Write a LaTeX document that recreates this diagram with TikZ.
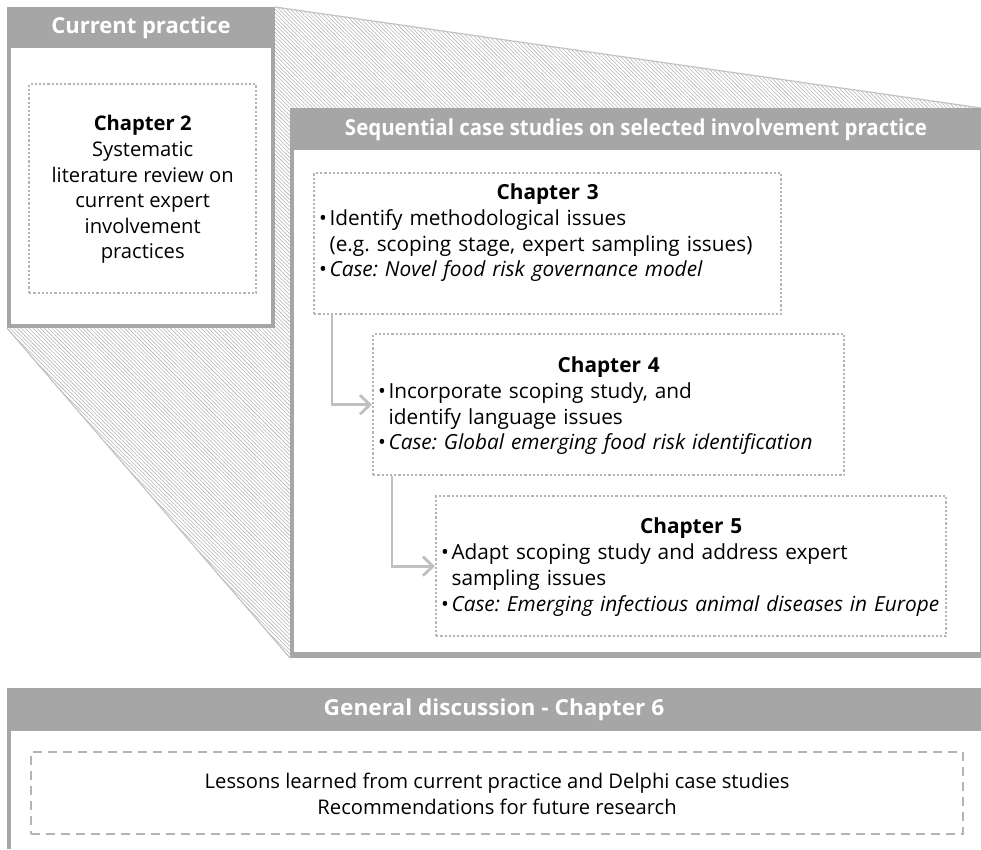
\documentclass[tikz,border=0pt]{standalone}
\usepackage{fontspec}
\setmainfont{Open Sans}
\usetikzlibrary{patterns.meta,arrows.meta}
\definecolor{hdr}{RGB}{166,166,166}
\definecolor{dotc}{RGB}{180,180,180}
\definecolor{arrc}{RGB}{192,192,192}
\definecolor{hatchc}{RGB}{178,178,178}
\newcommand{\bodyfont}{\fontsize{20.2}{25.6}\selectfont}
\newcommand{\chapfont}{\fontsize{20.8}{25.8}\selectfont}
\newcommand{\titlefont}{\fontsize{22}{26}\selectfont\bfseries}
\newcommand{\bul}{\textbullet\hspace{0.12em}}
\newcommand{\ind}{\hspace*{0.5em}}
\frenchspacing
\begin{document}
\begin{tikzpicture}[x=1pt,y=-1pt,
  graybox/.style={fill=hdr,draw=none,anchor=north west,inner sep=0pt},
  whitebox/.style={fill=white,draw=none,anchor=north west,inner sep=0pt},
  dotbox/.style={draw=dotc,line width=2.4pt,dash pattern=on 2.2pt off 2pt,anchor=north west,inner sep=0pt},
  dashbox/.style={draw=dotc,line width=2.2pt,dash pattern=on 9pt off 6pt,anchor=north west,inner sep=0pt},
  title/.style={font=\titlefont,text=white,inner sep=0pt},
  chaptext/.style={font=\chapfont,align=left,inner sep=0pt},
  conn/.style={draw=arrc,line width=2.8pt,-{Straight Barb[length=10pt,width=19pt,line width=2.8pt]}},
]
\useasboundingbox (0,0) rectangle (981,849);
\fill[white] (0,0) rectangle (981,849);

% hatched projection
\fill[pattern={Lines[angle=-45,distance=2.7pt,line width=0.55pt]},pattern color=hatchc]
  (275,7) -- (981,108) -- (981,658) -- (290,658) -- (7,328) -- (7,7) -- cycle;
\draw[dotc!80,line width=1.2pt] (275,7) -- (981,108);
\draw[dotc!80,line width=1.2pt] (7,328) -- (290,658);

% Current practice
\node[graybox,minimum width=268pt,minimum height=321pt] (cpout) at (7,7) {};
\node[whitebox,minimum width=260pt,minimum height=276pt] (cpin) at (11,48) {};
\node[title] (cptitle) at (141,28) {Current practice};
\node[dotbox,minimum width=227pt,minimum height=209pt] (ch2) at (28,83) {};
\node[font=\bodyfont,align=center,inner sep=0pt] (ch2t) at ([yshift=-1pt]ch2.center)
  {\textbf{Chapter 2}\\Systematic\\literature review on\\current expert\\involvement\\practices};

% Sequential case studies
\node[graybox,minimum width=691pt,minimum height=550pt] (sqout) at (290,108) {};
\node[whitebox,minimum width=686pt,minimum height=502pt] (sqin) at (294,150) {};
\node[title] (sqtitle) at (636,130) {\scalebox{0.93}[1]{Sequential case studies on selected involvement practice}};

\node[dotbox,minimum width=467pt,minimum height=141pt] (ch3) at (313,172) {};
\node[chaptext,text width=457pt] (ch3t) at ([yshift=11pt]ch3.center)
  {\makebox[\linewidth]{\bfseries Chapter 3}\\
   \bul Identify methodological issues\\
   \ind(e.g. scoping stage, expert sampling issues)\\
   \bul\textit{Case: Novel food risk governance model}};

\node[dotbox,minimum width=471pt,minimum height=141pt] (ch4) at (372,333) {};
\node[chaptext,text width=461pt] (ch4t) at ([yshift=-1pt]ch4.center)
  {\makebox[\linewidth]{\bfseries Chapter 4}\\
   \bul Incorporate scoping study, and\\
   \ind identify language issues\\
   \bul\textit{Case: Global emerging food risk identification}};

\node[dotbox,minimum width=510pt,minimum height=140pt] (ch5) at (435,495) {};
\node[chaptext,text width=500pt] (ch5t) at ([yshift=-1pt]ch5.center)
  {\makebox[\linewidth]{\bfseries Chapter 5}\\
   \bul Adapt scoping study and address expert\\
   \ind sampling issues\\
   \bul\textit{Case: Emerging infectious animal diseases in Europe}};

\draw[conn] ([xshift=19pt]ch3.south west) |- (ch4.west);
\draw[conn] ([xshift=20pt]ch4.south west) |- (ch5.west);

% General discussion
\node[graybox,minimum width=974pt,minimum height=161pt] (gdout) at (7,688) {};
\node[whitebox,minimum width=970pt,minimum height=118pt] (gdin) at (11,731) {};
\node[title] (gdtitle) at (494,710) {\scalebox{1.03}[1]{General discussion - Chapter 6}};
\node[dashbox,minimum width=932pt,minimum height=82pt] (gdbox) at (30,751) {};
\node[font=\bodyfont,align=center,inner sep=0pt] (gdt) at ([yshift=-1pt]gdbox.center)
  {Lessons learned from current practice and Delphi case studies\\Recommendations for future research};
\end{tikzpicture}
\end{document}
